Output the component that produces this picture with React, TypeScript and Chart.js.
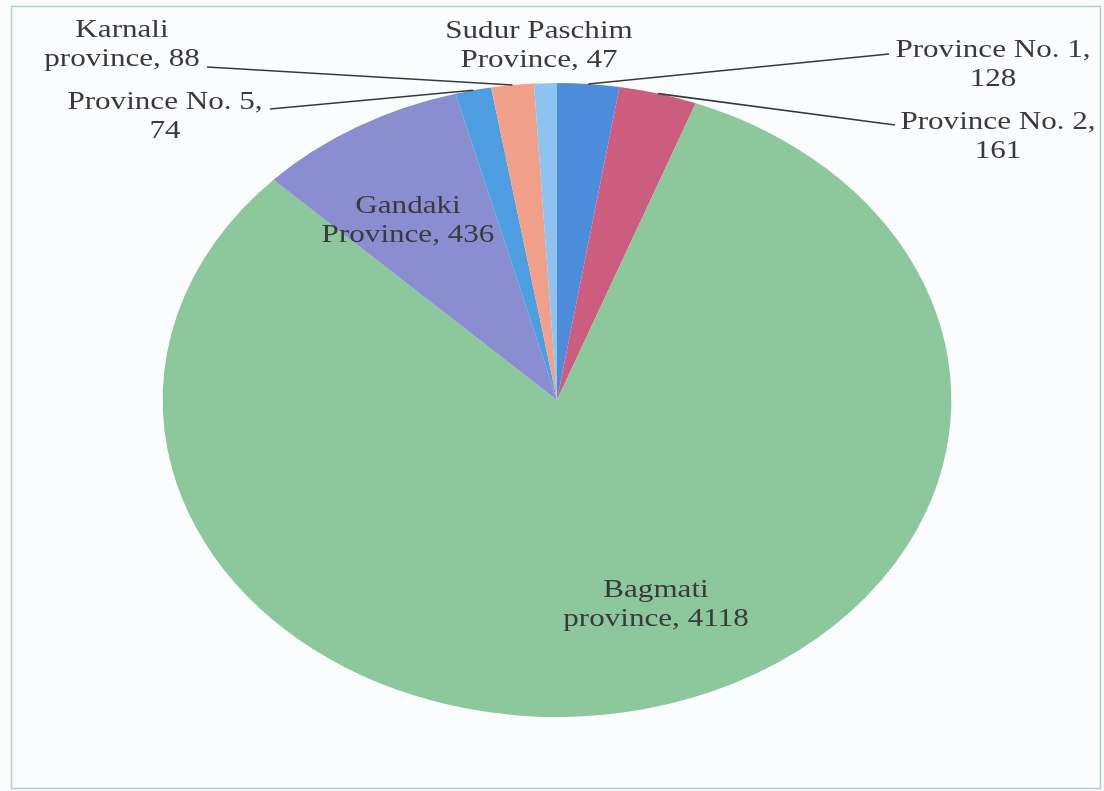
import React, { useEffect, useRef } from "react";
import { Chart, registerables } from "chart.js";

Chart.register(...registerables);

// ---- data ----
const categories = [
  "Province No. 1",
  "Province No. 2",
  "Bagmati province",
  "Gandaki Province",
  "Province No. 5",
  "Karnali province",
  "Sudur Paschim Province",
];
const values = [128, 161, 4118, 436, 74, 88, 47];
const colors = ["#4c8cdb", "#cd5d7e", "#8dc79c", "#8a8dd0", "#4d9fe2", "#f1a18a", "#8fc4f0"];

// ---- layout (label placement, not data) ----
const STRETCH = 1.244; // horizontal stretch of the scanned figure
const FONT = "25px 'Liberation Serif', 'Times New Roman', serif";
const LINE_H = 29;
// words on first line, label center x, first baseline y, leader anchor (or null)
const labelWrap = [3, 3, 1, 1, 3, 1, 2];
const labelX = [993, 998, 656, 408, 165, 122, 539];
const labelY = [57, 129, 597, 213, 109, 37, 38];
const leaderAnchor: (null | [number, number])[] = [
  [889, 54],
  [895, 125],
  null,
  null,
  [270, 109],
  [207, 67],
  null,
];

function labelLines(i: number): string[] {
  const words = `${categories[i]}, ${values[i]}`.split(" ");
  const n = labelWrap[i];
  return [words.slice(0, n).join(" "), words.slice(n).join(" ")];
}

const backgroundPlugin = {
  id: "bgFrame",
  beforeDraw(chart: any) {
    const { ctx, width, height } = chart;
    ctx.save();
    ctx.fillStyle = "#fbfcfd";
    ctx.fillRect(0, 0, width, height);
    ctx.strokeStyle = "#b3cae6";
    ctx.lineWidth = 1.5;
    ctx.strokeRect(11.5, 6.5, 1089, 782);
    ctx.restore();
  },
};

const stretchPlugin = {
  id: "stretch",
  beforeDatasetsDraw(chart: any) {
    const arc = chart.getDatasetMeta(0).data[0];
    const { ctx } = chart;
    ctx.save();
    ctx.translate(arc.x, arc.y);
    ctx.scale(STRETCH, 1);
    ctx.translate(-arc.x, -arc.y);
  },
  afterDatasetsDraw(chart: any) {
    chart.ctx.restore();
  },
};

const labelPlugin = {
  id: "sliceLabels",
  afterDraw(chart: any) {
    const { ctx } = chart;
    const meta = chart.getDatasetMeta(0);
    ctx.save();
    // leader lines
    ctx.strokeStyle = "#383838";
    ctx.lineWidth = 1.6;
    meta.data.forEach((arc: any, i: number) => {
      const a = leaderAnchor[i];
      if (!a) return;
      const mid = (arc.startAngle + arc.endAngle) / 2;
      const px = arc.x + STRETCH * arc.outerRadius * Math.cos(mid);
      const py = arc.y + arc.outerRadius * Math.sin(mid);
      ctx.beginPath();
      ctx.moveTo(a[0], a[1]);
      ctx.lineTo(px, py);
      ctx.stroke();
    });
    // texts
    ctx.font = FONT;
    ctx.fillStyle = "#3a3a3a";
    ctx.textAlign = "center";
    ctx.textBaseline = "alphabetic";
    meta.data.forEach((_arc: any, i: number) => {
      labelLines(i).forEach((line, k) => {
        ctx.save();
        ctx.translate(labelX[i], labelY[i] + k * LINE_H);
        ctx.scale(STRETCH, 1);
        ctx.fillText(line, 0, 0);
        ctx.restore();
      });
    });
    ctx.restore();
  },
};

export default function App() {
  const ref = useRef<HTMLCanvasElement | null>(null);
  useEffect(() => {
    if (!ref.current) return;
    const chart = new Chart(ref.current, {
      type: "pie",
      data: {
        labels: categories,
        datasets: [
          {
            data: values,
            backgroundColor: colors,
            borderWidth: 0,
            clip: false,
          } as any,
        ],
      },
      options: {
        responsive: false,
        animation: false,
        devicePixelRatio: 1,
        layout: { padding: { left: 240, right: 230, top: 83, bottom: 74 } },
        plugins: { legend: { display: false }, tooltip: { enabled: false } },
      },
      plugins: [backgroundPlugin, stretchPlugin, labelPlugin],
    });
    return () => chart.destroy();
  }, []);
  return (
    <div style={{ position: "fixed", left: 0, top: 0, width: 1104, height: 791, background: "#fbfcfd" }}>
      <canvas ref={ref} width={1104} height={791} style={{ width: 1104, height: 791, display: "block" }} />
    </div>
  );
}
